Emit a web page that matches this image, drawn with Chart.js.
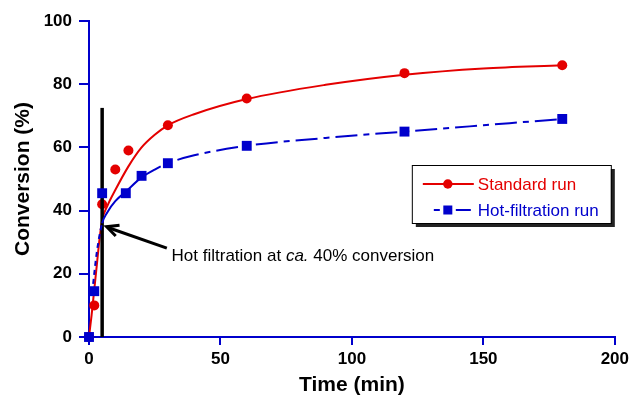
<!DOCTYPE html>
<html>
<head>
<meta charset="utf-8">
<script src="https://cdn.jsdelivr.net/npm/chart.js@4"></script>
<style>
  body { margin: 0; background: #fff; }
  #chart { display: block; }
</style>
</head>
<body>
<canvas id="chart" width="633" height="399"></canvas>
<script>
// measured points
const stdTime = [0, 2, 5, 10, 15, 30, 60, 120, 180];
const stdConv = [0, 10, 42, 53, 59, 67, 75.5, 83.5, 86];
const hotTime = [0, 2, 5, 14, 20, 30, 60, 120, 180];
const hotConv = [0, 14.5, 45.5, 45.5, 51, 55, 60.5, 65, 69];

// fitted curves
const stdFitTime = [0, 1, 2, 3, 4, 5, 7, 10, 15, 20, 25, 30, 40, 60, 90, 120, 150, 180];
const stdFitConv = [0, 7, 15, 23, 31, 37, 41.5, 46.5, 54, 60, 64, 67, 70.5, 75.3, 79.8, 83, 85, 86];
const hotFitTime = [1.2, 3, 5, 7, 10, 14, 20, 25, 30, 40, 60, 90, 120, 150, 180];
const hotFitConv = [14, 27, 36, 39.5, 43, 46, 50.5, 53, 55, 57.5, 60.5, 63, 65, 67, 69];

// filtration marker
const filtTime = [5, 5];
const filtConv = [0, 72.5];

const xTicks = [0, 50, 100, 150, 200];
const yTicks = [0, 20, 40, 60, 80, 100];

const RED = 'rgb(228,0,0)';
const BLUE = 'rgb(0,0,204)';
const FONT = 'Arial, "Liberation Sans", sans-serif';

const pts = (xs, ys) => xs.map((x, i) => ({x: x, y: ys[i]}));

// arrow + label "Hot filtration at ca. 40% conversion"
const notePlugin = {
  id: 'note',
  afterDatasetsDraw(chart) {
    const {ctx, scales: {x, y}} = chart;
    const x0 = x.getPixelForValue(29.6), y0 = y.getPixelForValue(28.1);
    const x1 = x.getPixelForValue(6.7), y1 = y.getPixelForValue(34.9);
    ctx.save();
    ctx.strokeStyle = '#000';
    ctx.lineWidth = 3;
    ctx.lineCap = 'butt';
    ctx.beginPath();
    ctx.moveTo(x0, y0);
    ctx.lineTo(x1 + 2, y1 + 1);
    ctx.stroke();
    const a = Math.atan2(y0 - y1, x0 - x1);
    ctx.beginPath();
    ctx.moveTo(x1 + 13 * Math.cos(a - 0.45), y1 + 13 * Math.sin(a - 0.45));
    ctx.lineTo(x1, y1);
    ctx.lineTo(x1 + 13 * Math.cos(a + 0.45), y1 + 13 * Math.sin(a + 0.45));
    ctx.stroke();

    let tx = x.getPixelForValue(31.4);
    const ty = y.getPixelForValue(24.05);
    ctx.fillStyle = '#000';
    ctx.textBaseline = 'alphabetic';
    const parts = [['Hot filtration at ', ''], ['ca.', 'italic '], [' 40% conversion', '']];
    parts.forEach(p => {
      ctx.font = p[1] + '17px ' + FONT;
      ctx.fillText(p[0], tx, ty);
      tx += ctx.measureText(p[0]).width;
    });
    ctx.restore();
  }
};

// boxed legend with shadow
const legendPlugin = {
  id: 'boxLegend',
  afterDraw(chart) {
    const {ctx, chartArea} = chart;
    const bx = chartArea.right - 203, by = chartArea.top + 144, bw = 199, bh = 58;
    ctx.save();
    ctx.fillStyle = '#222';
    ctx.fillRect(bx + 4, by + 4, bw, bh);
    ctx.fillStyle = '#fff';
    ctx.fillRect(bx, by, bw, bh);
    ctx.strokeStyle = '#000';
    ctx.lineWidth = 1;
    ctx.strokeRect(bx + 0.5, by + 0.5, bw, bh);

    const r1 = by + 19, r2 = by + 45;
    const lx = bx + 11, mx = bx + 36, ex = bx + 62;
    ctx.strokeStyle = RED;
    ctx.lineWidth = 2;
    ctx.beginPath(); ctx.moveTo(lx, r1); ctx.lineTo(ex, r1); ctx.stroke();
    ctx.fillStyle = RED;
    ctx.beginPath(); ctx.arc(mx, r1, 4.7, 0, Math.PI * 2); ctx.fill();

    ctx.strokeStyle = BLUE;
    ctx.beginPath(); ctx.moveTo(bx + 22, r2); ctx.lineTo(bx + 28, r2); ctx.stroke();
    ctx.beginPath(); ctx.moveTo(bx + 44, r2); ctx.lineTo(bx + 59, r2); ctx.stroke();
    ctx.fillStyle = BLUE;
    ctx.fillRect(mx - 4.5, r2 - 4.5, 9, 9);

    ctx.font = '17px ' + FONT;
    ctx.textBaseline = 'middle';
    ctx.fillStyle = RED;
    ctx.fillText('Standard run', bx + 66, r1 + 1);
    ctx.fillStyle = BLUE;
    ctx.fillText('Hot-filtration run', bx + 66, r2 + 1);
    ctx.restore();
  }
};

const bg = {
  id: 'bg',
  beforeDraw(chart) {
    const ctx = chart.ctx;
    ctx.save();
    ctx.fillStyle = '#fff';
    ctx.fillRect(0, 0, chart.width, chart.height);
    ctx.restore();
  }
};

// dashed near the start, solid to ~20 min, dash-dot afterwards
const hotDash = c => {
  if (c.p1.parsed.x <= 5) return [5, 4];
  if (c.p0.parsed.x >= 20) return [22, 6, 6, 6];
  return [];
};

new Chart(document.getElementById('chart').getContext('2d'), {
  type: 'scatter',
  data: {
    datasets: [
      {
        label: 'Hot-filtration run',
        data: pts(hotTime, hotConv),
        pointStyle: 'rect',
        pointRadius: 7,
        backgroundColor: BLUE,
        borderWidth: 0,
        showLine: false,
        clip: false,
        order: 0
      },
      {
        label: 'hot fit',
        data: pts(hotFitTime, hotFitConv),
        showLine: true,
        borderColor: BLUE,
        borderWidth: 2,
        pointRadius: 0,
        cubicInterpolationMode: 'monotone',
        segment: { borderDash: hotDash },
        clip: false,
        order: 1
      },
      {
        label: 'filtration',
        data: pts(filtTime, filtConv),
        showLine: true,
        borderColor: '#000',
        borderWidth: 3.5,
        pointRadius: 0,
        clip: false,
        order: 2
      },
      {
        label: 'Standard run',
        data: pts(stdTime, stdConv),
        pointStyle: 'circle',
        pointRadius: 5,
        backgroundColor: RED,
        borderWidth: 0,
        showLine: false,
        clip: false,
        order: 3
      },
      {
        label: 'std fit',
        data: pts(stdFitTime, stdFitConv),
        showLine: true,
        borderColor: RED,
        borderWidth: 2,
        pointRadius: 0,
        cubicInterpolationMode: 'monotone',
        clip: false,
        order: 4
      }
    ]
  },
  options: {
    responsive: false,
    animation: false,
    devicePixelRatio: 1,
    layout: { padding: { top: 21, right: 16, left: 0, bottom: 0 } },
    plugins: { legend: { display: false }, tooltip: { enabled: false } },
    scales: {
      x: {
        type: 'linear',
        min: 0, max: 200,
        afterFit: s => { s.height = 62; },
        afterBuildTicks: s => { s.ticks = xTicks.map(v => ({value: v})); },
        grid: { drawOnChartArea: false, drawTicks: true, tickLength: 8, color: BLUE, lineWidth: 2 },
        border: { color: BLUE, width: 2 },
        ticks: { color: '#000', padding: 4, font: { family: FONT, size: 17, weight: 'bold' } },
        title: {
          display: true, text: 'Time (min)', color: '#000',
          padding: { top: 0, bottom: 1 },
          font: { family: FONT, size: 21, weight: 'bold' }
        }
      },
      y: {
        type: 'linear',
        min: 0, max: 100,
        afterFit: s => { s.width = 89; },
        afterBuildTicks: s => { s.ticks = yTicks.map(v => ({value: v})); },
        grid: { drawOnChartArea: false, drawTicks: true, tickLength: 10, color: BLUE, lineWidth: 2 },
        border: { color: BLUE, width: 2 },
        ticks: { color: '#000', padding: 7, font: { family: FONT, size: 17, weight: 'bold' } },
        title: {
          display: true, text: 'Conversion (%)', color: '#000',
          padding: { top: 11, bottom: 0 },
          font: { family: FONT, size: 21, weight: 'bold' }
        }
      }
    }
  },
  plugins: [bg, notePlugin, legendPlugin]
});
</script>
</body>
</html>
